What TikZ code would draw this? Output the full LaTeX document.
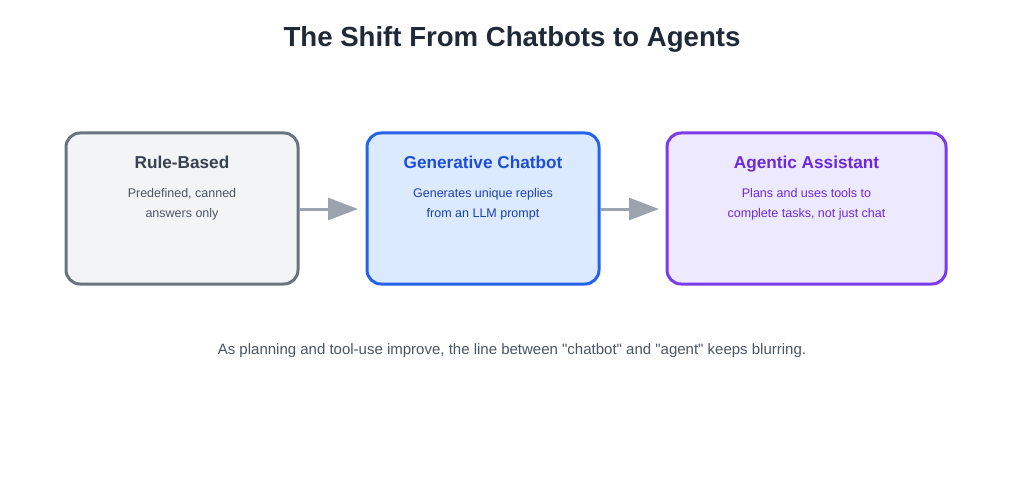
\documentclass[tikz,border=0pt]{standalone}
\usepackage{fontspec}
\setmainfont{Liberation Sans}
\usetikzlibrary{arrows.meta}
\definecolor{ttl}{HTML}{1F2937}
\definecolor{gfill}{HTML}{F3F4F6}\definecolor{gline}{HTML}{6B7280}\definecolor{gtit}{HTML}{374151}\definecolor{gtxt}{HTML}{4B5563}
\definecolor{bfill}{HTML}{DBEAFE}\definecolor{bline}{HTML}{2563EB}\definecolor{btit}{HTML}{1D4ED8}\definecolor{btxt}{HTML}{1E40AF}
\definecolor{pfill}{HTML}{EDE9FE}\definecolor{pline}{HTML}{7C3AED}\definecolor{ptit}{HTML}{6D28D9}\definecolor{ptxt}{HTML}{6D28D9}
\definecolor{arr}{HTML}{9CA3AF}
\tikzset{
  card/.style={draw, line width=3pt, rounded corners=14pt, minimum height=151pt, inner sep=0pt},
  cardtitle/.style={font=\bfseries\fontsize{17.2}{20}\selectfont, anchor=base},
  carddesc/.style={font=\fontsize{12.5}{19.5}\selectfont, align=center, anchor=base},
  flow/.style={draw=arr, line width=3pt, -{Triangle[length=30pt,width=22pt]}}
}
\begin{document}
\begin{tikzpicture}[x=1pt,y=-1pt]
\useasboundingbox (0,0) rectangle (1024,481);
\fill[white] (0,0) rectangle (1024,481);
\node[font=\bfseries\fontsize{27.6}{30}\selectfont, text=ttl, anchor=base] (title) at (512,47) {The Shift From Chatbots to Agents};

\node[card, fill=gfill, draw=gline, minimum width=232pt] (rule) at (182,208.5) {};
\node[card, fill=bfill, draw=bline, minimum width=232pt] (gen) at (483,208.5) {};
\node[card, fill=pfill, draw=pline, minimum width=279pt] (agent) at (806.5,208.5) {};

\node[cardtitle, text=gtit] (ruleT) at (182,168) {Rule-Based};
\node[carddesc, text=gtxt] (ruleD) at (182,217) {Predefined, canned\\answers only};
\node[cardtitle, text=btit] (genT) at (483,168) {Generative Chatbot};
\node[carddesc, text=btxt] (genD) at (483,217) {Generates unique replies\\from an LLM prompt};
\node[cardtitle, text=ptit] (agentT) at (806.5,168) {Agentic Assistant};
\node[carddesc, text=ptxt] (agentD) at (806.5,217) {Plans and uses tools to\\complete tasks, not just chat};

\coordinate (a1s) at (rule.east|-0,209);
\coordinate (a1e) at (358,209);
\coordinate (a2s) at (gen.east|-0,209);
\coordinate (a2e) at (659,209);
\draw[flow] (a1s) -- (a1e);
\draw[flow] (a2s) -- (a2e);

\node[font=\fontsize{15}{17}\selectfont, text=gtxt, anchor=base] (cap) at (512,354) {As planning and tool-use improve, the line between \textquotedbl chatbot\textquotedbl{} and \textquotedbl agent\textquotedbl{} keeps blurring.};
\end{tikzpicture}
\end{document}
